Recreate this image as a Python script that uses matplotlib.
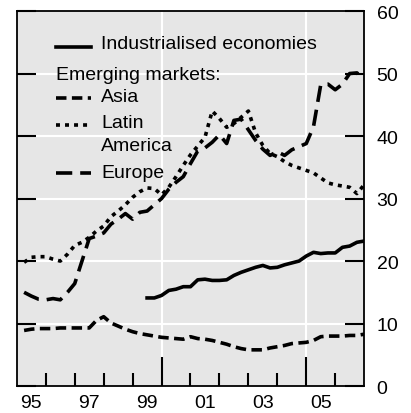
import numpy as np
import matplotlib
matplotlib.use("Agg")
import matplotlib.pyplot as plt

plt.rcParams['font.family'] = ['Liberation Sans', 'DejaVu Sans']

# quarterly observations, plotted at quarter end
q_em = np.arange(1995.25, 2007.01, 0.25)
q_ind = np.arange(1999.5, 2007.01, 0.25)

industrialised = [14.1, 14.1, 14.5, 15.3, 15.5, 15.9, 15.9, 17.0, 17.1, 16.9,
                  16.9, 17.0, 17.7, 18.2, 18.6, 19.0, 19.3, 18.9, 19.0, 19.4,
                  19.7, 20.0, 20.8, 21.4, 21.2, 21.3, 21.3, 22.2, 22.4, 23.0, 23.2]

asia = [8.9, 9.1, 9.2, 9.2, 9.2, 9.3, 9.3, 9.3, 9.3, 9.3,
        10.5, 11.1, 10.1, 9.6, 9.1, 8.7, 8.4, 8.2, 8.0, 7.8,
        7.7, 7.6, 7.5, 7.9, 7.6, 7.5, 7.3, 7.0, 6.7, 6.3,
        6.0, 5.8, 5.8, 5.8, 6.1, 6.3, 6.5, 6.8, 6.9, 7.0,
        7.3, 7.9, 8.0, 8.0, 8.0, 8.1, 8.1, 8.3]

latin = [19.8, 20.6, 20.7, 20.7, 20.3, 20.0, 21.1, 22.5, 23.0, 23.8,
         24.8, 25.6, 27.1, 28.0, 29.0, 30.2, 31.1, 31.7, 31.6, 30.6,
         31.8, 33.5, 35.3, 37.0, 38.4, 39.8, 44.0, 42.8, 41.4, 42.0,
         43.0, 44.0, 40.5, 38.5, 37.2, 36.7, 35.9, 35.3, 34.9, 34.5,
         34.1, 33.3, 32.5, 32.2, 32.0, 31.8, 30.8, 32.2]

europe = [15.0, 14.4, 13.9, 13.8, 14.0, 13.8, 15.0, 16.4, 20.0, 23.6,
          24.0, 24.5, 25.9, 26.7, 27.6, 26.7, 27.8, 28.0, 29.0, 30.0,
          31.5, 32.6, 33.5, 35.6, 37.6, 38.1, 39.0, 40.2, 38.8, 42.5,
          42.7, 41.0, 39.3, 37.9, 36.9, 37.5, 36.9, 37.8, 38.3, 38.8,
          41.5, 48.2, 48.3, 47.4, 48.3, 50.0, 50.1, 49.1]

year_labels = ['95', '97', '99', '01', '03', '05']
label_pos = [1995.5, 1997.5, 1999.5, 2001.5, 2003.5, 2005.5]

lw = 2.6
st_ind = '-'
st_asia = (0, (2.9, 1.5))
st_latin = (0, (1.1, 1.4))
st_europe = (0, (4.5, 2.2))

fig = plt.figure(figsize=(4.11, 4.14), dpi=100)
ax = fig.add_axes([0.041, 0.065, 0.845, 0.906])
ax.set_facecolor('#e6e6e6')

ax.plot(q_ind, industrialised, color='black', lw=lw, ls=st_ind)
ax.plot(q_em, asia, color='black', lw=lw, ls=st_asia)
ax.plot(q_em, latin, color='black', lw=lw, ls=st_latin)
ax.plot(q_em, europe, color='black', lw=lw, ls=st_europe)

ax.set_xlim(1995, 2007)
ax.set_ylim(0, 60)

# grid
for v in [10, 20, 30, 40, 50]:
    ax.axhline(v, color='white', lw=1.5, zorder=0.5)
for v in [2000, 2005]:
    ax.axvline(v, color='white', lw=1.5, zorder=0.5)

for s in ax.spines.values():
    s.set_linewidth(1.3)
    s.set_color('black')

ax.set_yticks([0, 10, 20, 30, 40, 50, 60])
ax.tick_params(axis='y', left=True, right=True, labelleft=False, labelright=True,
               direction='in', length=14, width=1.5, pad=9, labelsize=14,
               color='black')

# long ticks at 2000 and 2005, short ones at the other year starts
ax.set_xticks([2000, 2005])
ax.set_xticklabels([])
ax.tick_params(axis='x', which='major', direction='in', length=21, width=1.5,
               color='black')
years = [y for y in range(1996, 2007) if y not in (2000, 2005)]
ax.set_xticks(years, minor=True)
ax.tick_params(axis='x', which='minor', direction='in', length=9.5, width=1.5,
               color='black')

# year labels centred in the year
sec = ax.secondary_xaxis('bottom')
sec.set_xticks(label_pos)
sec.set_xticklabels(year_labels)
sec.tick_params(length=0, pad=6, labelsize=14)
sec.spines['bottom'].set_visible(False)

# legend drawn by hand
tr = ax.transAxes
x0, x1, xt = 0.112, 0.213, 0.242
ax.plot([x0, x1], [0.905, 0.905], transform=tr, color='black', lw=lw, ls=st_ind)
ax.text(xt, 0.901, 'Industrialised economies', transform=tr, fontsize=14, va='baseline')
ax.text(x0, 0.819, 'Emerging markets:', transform=tr, fontsize=14, va='baseline')
ax.plot([x0, x1], [0.768, 0.768], transform=tr, color='black', lw=lw, ls=st_asia)
ax.text(xt, 0.760, 'Asia', transform=tr, fontsize=14, va='baseline')
ax.plot([x0, x1], [0.696, 0.696], transform=tr, color='black', lw=lw, ls=st_latin)
ax.text(xt, 0.691, 'Latin', transform=tr, fontsize=14, va='baseline')
ax.text(xt, 0.629, 'America', transform=tr, fontsize=14, va='baseline')
ax.plot([x0, x1], [0.567, 0.567], transform=tr, color='black', lw=lw, ls=st_europe)
ax.text(xt, 0.557, 'Europe', transform=tr, fontsize=14, va='baseline')

fig.savefig('out.png', dpi=100)
